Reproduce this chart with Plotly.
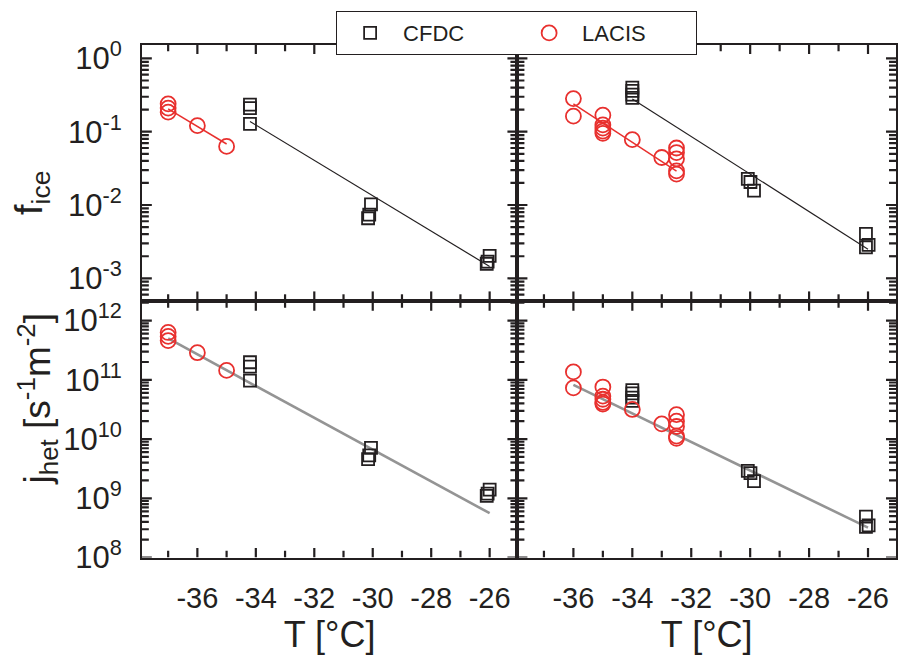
import math
import plotly.graph_objects as go

# ---------------- data ----------------
# Left column
cfdc_T_left = [-34.2, -34.2, -34.2, -30.06, -30.12, -30.16, -26.0, -26.07, -26.1]
cfdc_f_left = [0.235, 0.21, 0.128, 0.0102, 0.0074, 0.0066, 0.00202, 0.00169, 0.00158]
cfdc_j_left = [1.98e11, 1.67e11, 9.7e10, 7.1e9, 5.3e9, 4.6e9, 1.4e9, 1.2e9, 1.1e9]
lacis_T_left = [-37, -37, -37, -36, -35]
lacis_f_left = [0.24, 0.21, 0.185, 0.121, 0.063]
lacis_j_left = [6.3e11, 5.4e11, 4.6e11, 2.87e11, 1.44e11]

# Right column
cfdc_T_right = [-34.0, -34.0, -34.0, -34.0, -30.08, -29.99, -29.87, -26.07, -25.98, -26.07]
cfdc_f_right = [0.40, 0.36, 0.32, 0.29, 0.0227, 0.0206, 0.0157, 0.00403, 0.00286, 0.00264]
cfdc_j_right = [6.7e10, 5.9e10, 5.0e10, 4.4e10, 2.9e9, 2.67e9, 1.95e9, 4.9e8, 3.5e8, 3.3e8]
lacis_T_right = [-36, -36, -35, -35, -35, -35, -35, -34, -33, -32.5, -32.5, -32.5, -32.5, -32.5]
lacis_f_right = [0.283, 0.163, 0.168, 0.124, 0.112, 0.102, 0.095, 0.078, 0.0445,
                 0.060, 0.052, 0.0427, 0.0292, 0.0264]
lacis_j_right = [1.36e11, 7.3e10, 7.55e10, 5.3e10, 4.7e10, 4.15e10, 3.9e10, 3.16e10, 1.8e10,
                 2.58e10, 2.0e10, 1.63e10, 1.12e10, 1.03e10]

# Fit lines (end points)
fit_lacis_f_left_T = [-37, -35]
fit_lacis_f_left_y = [0.205, 0.068]
fit_cfdc_f_left_T = [-34.2, -26.0]
fit_cfdc_f_left_y = [0.138, 0.00145]
fit_lacis_f_right_T = [-36, -32.5]
fit_lacis_f_right_y = [0.239, 0.029]
fit_cfdc_f_right_T = [-34, -26]
fit_cfdc_f_right_y = [0.28, 0.0025]
fit_j_left_T = [-37, -26]
fit_j_left_y = [5.0e11, 5.6e8]
fit_j_right_T = [-36, -26]
fit_j_right_y = [8.2e10, 3.2e8]

# Axes
x_range = [-37.9, -25.05]
f_range_log = [-3.31, 0.19]
j_range_log = [8.0, 12.33]
x_tickvals = [-36, -34, -32, -30, -28, -26]
x_ticktext = ["-36", "-34", "-32", "-30", "-28", "-26"]
x_minorvals = [-37, -35, -33, -31, -29, -27, -25]
f_tickvals = [1, 0.1, 0.01, 0.001]
f_ticktext = ["10<sup>0</sup>", "10<sup>-1</sup>", "10<sup>-2</sup>", "10<sup>-3</sup>"]
j_tickvals = [1e12, 1e11, 1e10, 1e9, 1e8]
j_ticktext = ["10<sup>12</sup>", "10<sup>11</sup>", "10<sup>10</sup>", "10<sup>9</sup>", "10<sup>8</sup>"]
f_decades = [-4, -3, -2, -1, 0]
j_decades = [7, 8, 9, 10, 11, 12]
minor_mult = [2, 3, 4, 5, 6, 7, 8, 9]

BLACK = "#231f20"
RED = "#e8302e"
GRAY = "#949494"
FONT = "Liberation Sans, Arial, sans-serif"

W, H = 898, 662
xl0, xl1, xr1 = 142 / W, 518 / W, 897 / W
yt1, ymid, yb0 = 1 - 38 / H, 1 - 305 / H, 1 - 572 / H

fig = go.Figure()

sq = dict(symbol="square-open", size=12, color=BLACK, line=dict(width=1.8, color=BLACK))
ci = dict(symbol="circle-open", size=15, color=RED, line=dict(width=1.8, color=RED))

panels = [
    ("x", "y", "f", (xl0, xl1), (ymid, yt1), cfdc_T_left, cfdc_f_left, lacis_T_left, lacis_f_left,
     [(fit_lacis_f_left_T, fit_lacis_f_left_y, RED, 1.5),
      (fit_cfdc_f_left_T, fit_cfdc_f_left_y, BLACK, 1.2)]),
    ("x2", "y2", "f", (xl1, xr1), (ymid, yt1), cfdc_T_right, cfdc_f_right, lacis_T_right, lacis_f_right,
     [(fit_lacis_f_right_T, fit_lacis_f_right_y, RED, 1.5),
      (fit_cfdc_f_right_T, fit_cfdc_f_right_y, BLACK, 1.2)]),
    ("x3", "y3", "j", (xl0, xl1), (yb0, ymid), cfdc_T_left, cfdc_j_left, lacis_T_left, lacis_j_left,
     [(fit_j_left_T, fit_j_left_y, GRAY, 2.6)]),
    ("x4", "y4", "j", (xl1, xr1), (yb0, ymid), cfdc_T_right, cfdc_j_right, lacis_T_right, lacis_j_right,
     [(fit_j_right_T, fit_j_right_y, GRAY, 2.6)]),
]


def tick_segments(kind, dx, dy, major_len=10, minor_len=7):
    """Inside tick marks on all four sides, expressed in the panel's own axis units."""
    lo, hi = f_range_log if kind == "f" else j_range_log
    decs = f_decades if kind == "f" else j_decades
    majors = f_tickvals if kind == "f" else j_tickvals
    panel_w = (dx[1] - dx[0]) * W
    panel_h = (dy[1] - dy[0]) * H
    x_per_px = (x_range[1] - x_range[0]) / panel_w
    logy_per_px = (hi - lo) / panel_h
    xs, ys = [], []

    def yt(v, L):
        for x0, x1 in ((x_range[0], x_range[0] + L * x_per_px),
                       (x_range[1], x_range[1] - L * x_per_px)):
            xs.extend([x0, x1, None])
            ys.extend([v, v, None])

    def xt(v, L):
        for l0, l1 in ((lo, lo + L * logy_per_px), (hi, hi - L * logy_per_px)):
            xs.extend([v, v, None])
            ys.extend([10 ** l0, 10 ** l1, None])

    for v in majors:
        if lo <= math.log10(v) <= hi:
            yt(v, major_len)
    for d in decs:
        for m in minor_mult:
            v = m * 10.0 ** d
            if lo < math.log10(v) < hi:
                yt(v, minor_len)
    for v in x_tickvals:
        xt(v, major_len)
    for v in x_minorvals:
        if x_range[0] < v < x_range[1]:
            xt(v, minor_len)
    return xs, ys


for i, (xa, ya, kind, dx, dy, cT, cY, lT, lY, lines) in enumerate(panels):
    tx, ty = tick_segments(kind, dx, dy)
    fig.add_trace(go.Scatter(x=tx, y=ty, mode="lines", line=dict(color=BLACK, width=2.2),
                             xaxis=xa, yaxis=ya, showlegend=False, hoverinfo="skip",
                             connectgaps=False))
    for (lx, ly, col, w) in lines:
        fig.add_trace(go.Scatter(x=lx, y=ly, mode="lines", line=dict(color=col, width=w),
                                 xaxis=xa, yaxis=ya, showlegend=False, hoverinfo="skip"))
    fig.add_trace(go.Scatter(x=cT, y=cY, mode="markers", marker=sq, name="CFDC",
                             xaxis=xa, yaxis=ya, showlegend=(i == 0)))
    fig.add_trace(go.Scatter(x=lT, y=lY, mode="markers", marker=ci, name="LACIS",
                             xaxis=xa, yaxis=ya, showlegend=(i == 0)))

xcommon = dict(range=x_range, tickmode="array", tickvals=x_tickvals, ticks="",
               showline=True, linecolor=BLACK, linewidth=1.5, mirror=True,
               showgrid=False, zeroline=False, ticklabelstandoff=14,
               tickfont=dict(family=FONT, size=29, color=BLACK))
ycommon = dict(type="log", tickmode="array", ticks="", showline=True, linecolor=BLACK,
               linewidth=1.5, mirror=True, showgrid=False, zeroline=False,
               ticklabelstandoff=12, tickfont=dict(family=FONT, size=31, color=BLACK))
xtitle = dict(text="T [°C]", font=dict(family=FONT, size=36, color=BLACK), standoff=8)

fig.update_layout(
    width=W, height=H,
    margin=dict(l=0, r=0, t=0, b=0),
    paper_bgcolor="white", plot_bgcolor="white",
    font=dict(family=FONT, color=BLACK),
    xaxis=dict(xcommon, domain=[xl0, xl1], anchor="y", showticklabels=False),
    yaxis=dict(ycommon, domain=[ymid, yt1], anchor="x", range=f_range_log,
               tickvals=f_tickvals, ticktext=f_ticktext),
    xaxis2=dict(xcommon, domain=[xl1, xr1], anchor="y2", showticklabels=False),
    yaxis2=dict(ycommon, domain=[ymid, yt1], anchor="x2", range=f_range_log,
                tickvals=f_tickvals, showticklabels=False),
    xaxis3=dict(xcommon, domain=[xl0, xl1], anchor="y3", ticktext=x_ticktext, title=xtitle),
    yaxis3=dict(ycommon, domain=[yb0, ymid], anchor="x3", range=j_range_log,
                tickvals=j_tickvals, ticktext=j_ticktext),
    xaxis4=dict(xcommon, domain=[xl1, xr1], anchor="y4", ticktext=x_ticktext, title=xtitle),
    yaxis4=dict(ycommon, domain=[yb0, ymid], anchor="x4", range=j_range_log,
                tickvals=j_tickvals, showticklabels=False),
    legend=dict(orientation="h", x=517 / W, xanchor="center", y=1 - 3 / H, yanchor="top",
                bgcolor="white", bordercolor=BLACK, borderwidth=1.2,
                font=dict(family=FONT, size=22, color=BLACK),
                itemwidth=56, entrywidth=108, traceorder="normal"),
    annotations=[
        dict(text="f<sub>ice</sub>", xref="paper", yref="paper", x=6 / W, xanchor="left",
             y=1 - 166 / H, showarrow=False, textangle=-90,
             font=dict(family=FONT, size=38, color=BLACK)),
        dict(text="j<sub>het</sub> [s<sup>-1</sup>m<sup>-2</sup>]", xref="paper", yref="paper",
             x=10 / W, xanchor="left", y=1 - 498 / H, showarrow=False, textangle=-90,
             font=dict(family=FONT, size=37, color=BLACK)),
    ],
)

fig.write_html("out.html", config={"displayModeBar": False},
               post_script="document.body.style.margin='0';")
